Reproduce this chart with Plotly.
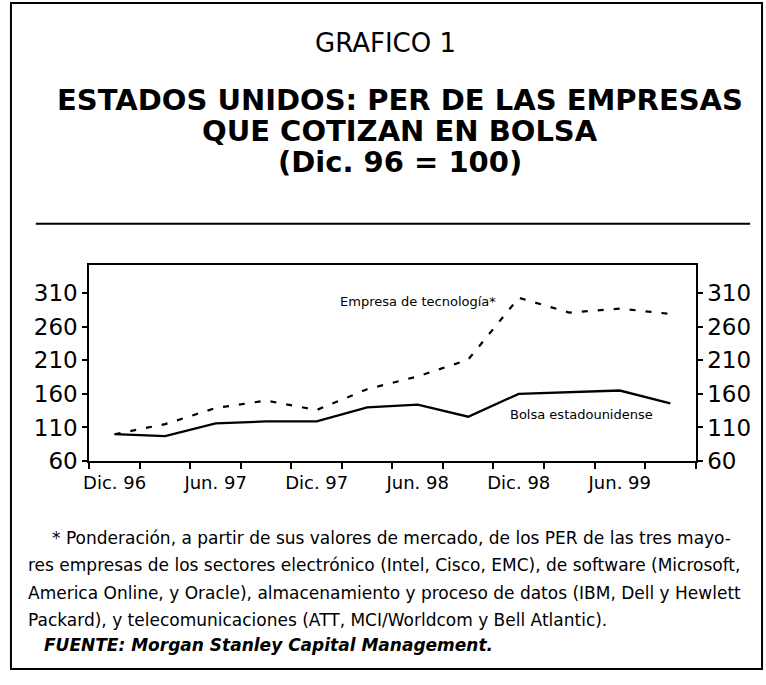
import plotly.graph_objects as go

quarters = ["Dic. 96", "Mar. 97", "Jun. 97", "Sep. 97", "Dic. 97", "Mar. 98",
            "Jun. 98", "Sep. 98", "Dic. 98", "Mar. 99", "Jun. 99", "Sep. 99"]
bolsa = [100, 97, 116, 119, 119, 140, 144, 126, 160, 162, 165, 146]
tecnologia = [100, 115, 139, 150, 136, 167, 186, 211, 303, 281, 287, 279]
tick_labels = ["Dic. 96", "Jun. 97", "Dic. 97", "Jun. 98", "Dic. 98", "Jun. 99"]
y_ticks = [60, 110, 160, 210, 260, 310]

W, H = 766, 685
FONT = "DejaVu Sans"

x = list(range(len(quarters)))
tickvals = [quarters.index(t) for t in tick_labels]

def px(v):
    return v / W

def py(v):
    return 1 - v / H

fig = go.Figure()
fig.add_trace(go.Scatter(x=x, y=bolsa, mode="lines", name="Bolsa estadounidense",
                         line=dict(color="black", width=2.3), showlegend=False))
fig.add_trace(go.Scatter(x=x, y=tecnologia, mode="lines", name="Empresa de tecnología",
                         line=dict(color="black", width=2.2, dash="6px,10px"),
                         yaxis="y2", showlegend=False))

yr = [60, 352]
axis_font = dict(family=FONT, size=23, color="black")
fig.update_layout(
    width=W, height=H, autosize=False,
    margin=dict(l=0, r=0, t=0, b=0),
    paper_bgcolor="white", plot_bgcolor="white",
    font=dict(family=FONT, color="black"),
    xaxis=dict(domain=[px(84), px(695)], range=[-0.5, len(quarters) - 0.5],
               tickvals=tickvals, ticktext=tick_labels, ticks="",
               tickfont=dict(family=FONT, size=18, color="black"),
               ticklabelstandoff=4,
               showline=True, linecolor="black", linewidth=2, mirror=True,
               showgrid=False, zeroline=False,
               minor=dict(tick0=-0.5, dtick=1, ticks="outside", ticklen=6,
                          tickcolor="black", tickwidth=1.5, showgrid=False)),
    yaxis=dict(domain=[py(470), py(270)], range=yr, tickvals=y_ticks,
               ticks="outside", ticklen=5, tickcolor="black", tickwidth=1.5,
               tickfont=axis_font, showline=True, linecolor="black", linewidth=2,
               showgrid=False, zeroline=False),
    yaxis2=dict(overlaying="y", side="right", range=yr, tickvals=y_ticks,
                ticks="outside", ticklen=5, tickcolor="black", tickwidth=1.5,
                tickfont=axis_font, showline=True, linecolor="black", linewidth=2,
                showgrid=False, zeroline=False),
)

# frame and separator
fig.add_shape(type="rect", xref="paper", yref="paper",
              x0=px(5), x1=px(762), y0=py(682), y1=py(3),
              line=dict(color="black", width=2))
fig.add_shape(type="line", xref="paper", yref="paper",
              x0=px(30), x1=px(750), y0=py(228), y1=py(228),
              line=dict(color="black", width=2))

def ann(text, xp, yp, size, bold=False, anchor="center", italic=False):
    t = text
    if bold:
        t = "<b>" + t + "</b>"
    if italic:
        t = "<i>" + t + "</i>"
    fig.add_annotation(x=px(xp), y=py(yp), xref="paper", yref="paper",
                       text=t, showarrow=False, xanchor=anchor, yanchor="middle",
                       font=dict(family=FONT, size=size, color="black"))

ann("GRAFICO 1", 382, 44, 26)
ann("ESTADOS UNIDOS: PER DE LAS EMPRESAS", 397, 102, 29, bold=True)
ann("QUE COTIZAN EN BOLSA", 397, 134, 29, bold=True)
ann("(Dic. 96 = 100)", 397, 165, 29, bold=True)

# series labels
fig.add_annotation(x=6.0, y=297, xref="x", yref="y",
                   text="Empresa de tecnología*", showarrow=False,
                   font=dict(family=FONT, size=13, color="black"))
fig.add_annotation(x=9.25, y=129, xref="x", yref="y",
                   text="Bolsa estadounidense", showarrow=False,
                   font=dict(family=FONT, size=13, color="black"))

notes = [
    ("* Ponderación, a partir de sus valores de mercado, de los PER de las tres mayo-", 44, 548),
    ("res empresas de los sectores electrónico (Intel, Cisco, EMC), de software (Microsoft,", 20, 576),
    ("America Online, y Oracle), almacenamiento y proceso de datos (IBM, Dell y Hewlett", 20, 604),
    ("Packard), y telecomunicaciones (ATT, MCI/Worldcom y Bell Atlantic).", 20, 632),
]
for t, xx, yy in notes:
    ann(t, xx, yy, 17, anchor="left")
ann("FUENTE: Morgan Stanley Capital Management.", 36, 657, 17, bold=True, italic=True, anchor="left")

fig.write_html("out.html", config={"displayModeBar": False},
               post_script="document.body.style.margin='0';document.body.style.padding='0';")
